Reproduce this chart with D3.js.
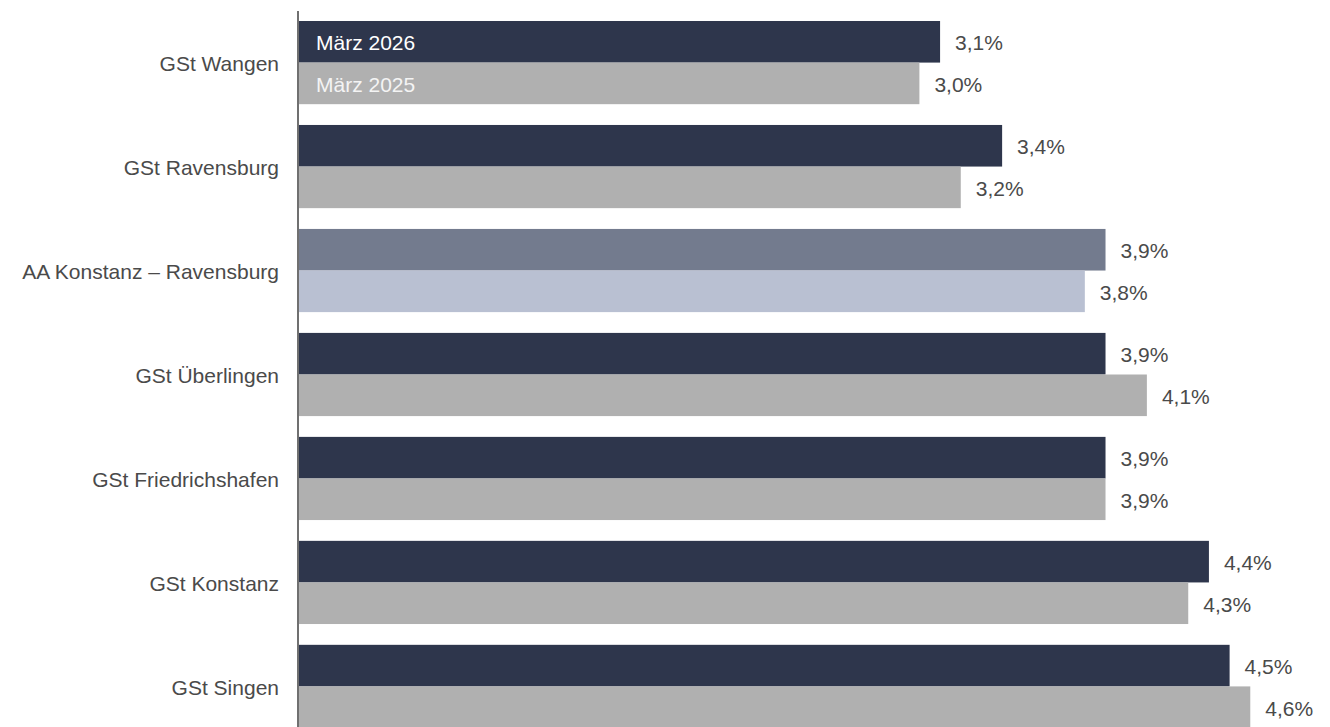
<!DOCTYPE html>
<html>
<head>
<meta charset="utf-8">
<script src="https://cdn.jsdelivr.net/npm/d3@7"></script>
<style>
  body { margin: 0; background: #fff; }
  text { font-family: "Liberation Sans", Arial, sans-serif; }
</style>
</head>
<body>
<div id="chart"></div>
<script>
const categories = ['GSt Wangen', 'GSt Ravensburg', 'AA Konstanz – Ravensburg', 'GSt Überlingen',
  'GSt Friedrichshafen', 'GSt Konstanz', 'GSt Singen'];
const values2026 = [3.1, 3.4, 3.9, 3.9, 3.9, 4.4, 4.5];
const values2025 = [3.0, 3.2, 3.8, 4.1, 3.9, 4.3, 4.6];
const seriesNames = ['März 2026', 'März 2025'];
const highlight = 'AA Konstanz – Ravensburg';

const width = 1330, height = 727;
const fontSize = 21;
const svg = d3.select('#chart').append('svg')
  .attr('width', width)
  .attr('height', height);

const x = d3.scaleLinear().domain([0, 5]).range([299, 299 + 5 * 206.8]);
const y = d3.scaleBand().domain(categories).range([21, 728]).paddingInner(0.2).paddingOuter(0);
const sub = d3.scaleBand().domain([0, 1]).range([0, y.bandwidth()]);

const colors = {
  normal: ['#2e364c', '#b0b0b0'],
  hi: ['#737b8e', '#b9c0d2']
};

const fmt = v => d3.format('.1f')(v).replace('.', ',') + '%';

const rows = categories.map((c, i) => ({ c, vals: [values2026[i], values2025[i]] }));

const g = svg.selectAll('.grp').data(rows).enter().append('g')
  .attr('transform', d => `translate(0,${y(d.c)})`);

g.selectAll('rect').data(d => d.vals.map((v, k) => ({ v, k, c: d.c }))).enter().append('rect')
  .attr('x', x(0))
  .attr('y', d => sub(d.k))
  .attr('width', d => x(d.v) - x(0))
  .attr('height', sub.bandwidth())
  .attr('fill', d => (d.c === highlight ? colors.hi : colors.normal)[d.k]);

g.selectAll('.val').data(d => d.vals.map((v, k) => ({ v, k }))).enter().append('text')
  .attr('x', d => x(d.v) + 15)
  .attr('y', d => sub(d.k) + sub.bandwidth() / 2 + 1)
  .attr('dy', '0.35em')
  .attr('font-size', fontSize)
  .attr('fill', '#4a4a4a')
  .text(d => fmt(d.v));

// category labels
svg.selectAll('.cat').data(categories).enter().append('text')
  .attr('x', 279)
  .attr('y', d => y(d) + y.bandwidth() / 2 + 1)
  .attr('dy', '0.35em')
  .attr('text-anchor', 'end')
  .attr('font-size', fontSize)
  .attr('fill', '#4a4a4a')
  .text(d => d);

// series names inside the first pair of bars
svg.selectAll('.leg').data(seriesNames).enter().append('text')
  .attr('x', x(0) + 17)
  .attr('y', (d, k) => y(categories[0]) + sub(k) + sub.bandwidth() / 2 + 1)
  .attr('dy', '0.35em')
  .attr('font-size', fontSize)
  .attr('fill', (d, k) => k === 0 ? '#ffffff' : '#f4f4f4')
  .text(d => d);

// vertical axis line
svg.append('line')
  .attr('x1', 298).attr('x2', 298)
  .attr('y1', 11).attr('y2', height)
  .attr('stroke', '#404040')
  .attr('stroke-width', 1.5);
</script>
</body>
</html>
